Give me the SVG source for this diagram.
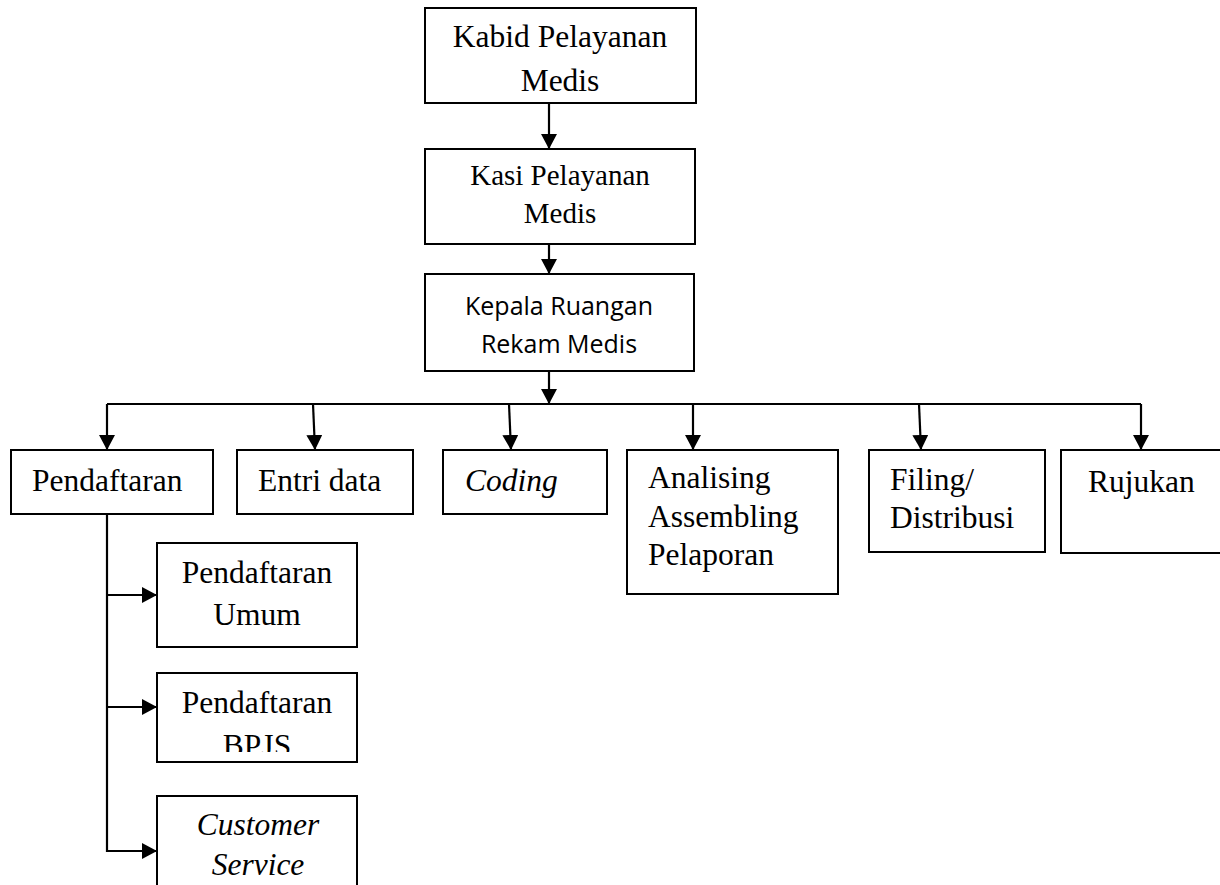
<svg xmlns="http://www.w3.org/2000/svg" width="1220" height="885" viewBox="0 0 1220 885">
<style>
.box{fill:#fff;stroke:#000;stroke-width:2}
.t{font-family:"Liberation Serif","Times New Roman",serif;font-size:31.5px;fill:#000}
.c{text-anchor:middle}
.i{font-style:italic}
.s{font-family:"Open Sans","Liberation Sans",sans-serif;font-size:25px;fill:#000;text-anchor:middle}
.ln{fill:none;stroke:#000;stroke-width:2.2}
.ar{fill:none;stroke:#000;stroke-width:2.2;marker-end:url(#ah)}
</style>
<defs>
<marker id="ah" viewBox="0 0 15 16" markerWidth="15" markerHeight="16" refX="15" refY="8" orient="auto" markerUnits="userSpaceOnUse">
<path d="M0,0 L15,8 L0,16 z" fill="#000"/>
</marker>
<clipPath id="clipBpjs"><rect x="157" y="673" width="200" height="79"/></clipPath>
</defs>
<rect width="1220" height="885" fill="#fff"/>

<g id="connectors">
<line class="ar" x1="549" y1="103" x2="549" y2="149"/>
<line class="ar" x1="549" y1="244" x2="549" y2="274"/>
<line class="ar" x1="549" y1="371" x2="549" y2="404"/>
<path class="ln" d="M107,404 H1141"/>
<line class="ar" x1="107" y1="404" x2="107" y2="450"/>
<line class="ar" x1="313" y1="404" x2="315" y2="450"/>
<line class="ar" x1="509" y1="404" x2="511" y2="450"/>
<line class="ar" x1="693" y1="404" x2="693" y2="450"/>
<line class="ar" x1="919" y1="404" x2="921" y2="450"/>
<line class="ar" x1="1141" y1="404" x2="1141" y2="450"/>
<path class="ar" d="M107,514 V851 H157"/>
<line class="ar" x1="107" y1="595" x2="157" y2="595"/>
<line class="ar" x1="107" y1="707" x2="157" y2="707"/>
</g>

<g id="kabid">
<rect class="box" x="425" y="8" width="271" height="95"/>
<text class="t c" x="560" y="47">Kabid Pelayanan</text>
<text class="t c" x="560" y="91">Medis</text>
</g>
<g id="kasi">
<rect class="box" x="425" y="149" width="270" height="95"/>
<text class="t c" x="560" y="185" style="font-size:29px">Kasi Pelayanan</text>
<text class="t c" x="560" y="223" style="font-size:29px">Medis</text>
</g>
<g id="kepala">
<rect class="box" x="425" y="274" width="269" height="97"/>
<text class="s" x="559" y="315">Kepala Ruangan</text>
<text class="s" x="559" y="353">Rekam Medis</text>
</g>

<g id="pendaftaran">
<rect class="box" x="11" y="450" width="202" height="64"/>
<text class="t" x="32" y="491">Pendaftaran</text>
</g>
<g id="entri">
<rect class="box" x="237" y="450" width="176" height="64"/>
<text class="t" x="258" y="491">Entri data</text>
</g>
<g id="coding">
<rect class="box" x="443" y="450" width="164" height="64"/>
<text class="t i" x="465" y="491">Coding</text>
</g>
<g id="analising">
<rect class="box" x="627" y="450" width="211" height="144"/>
<text class="t" x="648" y="488">Analising</text>
<text class="t" x="648" y="527">Assembling</text>
<text class="t" x="648" y="565">Pelaporan</text>
</g>
<g id="filing">
<rect class="box" x="869" y="450" width="176" height="102"/>
<text class="t" x="890" y="490">Filing/</text>
<text class="t" x="890" y="528">Distribusi</text>
</g>
<g id="rujukan">
<rect class="box" x="1061" y="450" width="170" height="103"/>
<text class="t" x="1088" y="492">Rujukan</text>
</g>

<g id="pendaftaran-umum">
<rect class="box" x="157" y="543" width="200" height="104"/>
<text class="t c" x="257" y="583">Pendaftaran</text>
<text class="t c" x="257" y="625">Umum</text>
</g>
<g id="pendaftaran-bpjs">
<rect class="box" x="157" y="673" width="200" height="89"/>
<text class="t c" x="257" y="713">Pendaftaran</text>
<text class="t c" x="257" y="756" clip-path="url(#clipBpjs)">BPJS</text>
</g>
<g id="customer-service">
<rect class="box" x="157" y="796" width="200" height="110"/>
<text class="t c i" x="258" y="835">Customer</text>
<text class="t c i" x="258" y="875">Service</text>
</g>
</svg>
